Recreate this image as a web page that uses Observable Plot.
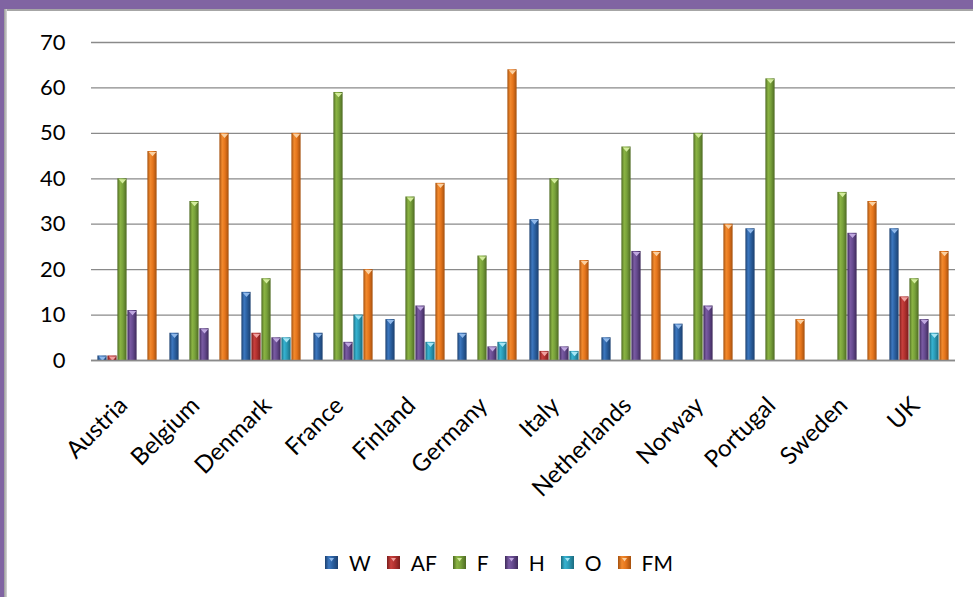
<!DOCTYPE html>
<html>
<head>
<meta charset="utf-8">
<script src="https://cdn.jsdelivr.net/npm/d3@7"></script>
<script src="https://cdn.jsdelivr.net/npm/@observablehq/plot@0.6"></script>
<style>
  html, body { margin: 0; padding: 0; background: #fff; }
  #frame { position: relative; width: 973px; height: 597px; overflow: hidden; background: #fff; font-family: Lato, "Open Sans", sans-serif; }
  #legend { position: absolute; top: 550px; left: 325px; display: flex; align-items: center; font-size: 21px; color: #000; }
  #legend .item { display: flex; align-items: center; margin-right: 16px; }
  #legend .sw { width: 13px; height: 13px; margin-right: 11px; }
</style>
</head>
<body>
<svg width="0" height="0" style="position:absolute">
  <defs id="gradDefs"></defs>
</svg>
<div id="frame">
  <div style="position:absolute;left:0;top:0;width:973px;height:9px;background:#8064a2"></div>
  <div style="position:absolute;left:0;top:0;width:4px;height:597px;background:#8064a2"></div>
  <div style="position:absolute;left:4px;top:9px;width:969px;height:2px;background:#a6a6a6"></div>
  <div style="position:absolute;left:4px;top:9px;width:3px;height:588px;background:linear-gradient(to right,#999,#d8d8d8)"></div>
  <div id="chart" style="position:absolute;left:0;top:0"></div>
  <div id="legend"></div>
</div>
<script>
const countries = ["Austria","Belgium","Denmark","France","Finland","Germany","Italy","Netherlands","Norway","Portugal","Sweden","UK"];
const series = ["W","AF","F","H","O","FM"];
const W  = [1, 6, 15, 6, 9, 6, 31, 5, 8, 29, 0, 29];
const AF = [1, 0, 6, 0, 0, 0, 2, 0, 0, 0, 0, 14];
const F  = [40, 35, 18, 59, 36, 23, 40, 47, 50, 62, 37, 18];
const H  = [11, 7, 5, 4, 12, 3, 3, 24, 12, 0, 28, 9];
const O  = [0, 0, 5, 10, 4, 4, 2, 0, 0, 0, 0, 6];
const FM = [46, 50, 50, 20, 39, 64, 22, 24, 30, 9, 35, 24];
const yTicks = [0, 10, 20, 30, 40, 50, 60, 70];

const values = {W, AF, F, H, O, FM};
// colours: [dark edge, light, mid, marker]
const palette = {
  W:  ["#1c406f", "#3d78c0", "#2a5f9f", "#8fb8ea"],
  AF: ["#7a1d1c", "#c8403d", "#b0302e", "#f0a09e"],
  F:  ["#4e6a23", "#8bb444", "#77a03a", "#d3ec9c"],
  H:  ["#3e2a5a", "#7a5ba3", "#654a8e", "#c0a8e0"],
  O:  ["#1c6b7f", "#36b3d1", "#2a9ab6", "#a6e6f5"],
  FM: ["#a4500e", "#f28a2e", "#e5751c", "#fbd0a0"]
};

const defs = document.getElementById("gradDefs");
const NS = "http://www.w3.org/2000/svg";
for (const s of series) {
  const [dark, light, mid] = palette[s];
  const g = document.createElementNS(NS, "linearGradient");
  g.setAttribute("id", "g-" + s);
  g.setAttribute("x1", "0"); g.setAttribute("x2", "1");
  g.setAttribute("y1", "0"); g.setAttribute("y2", "0");
  [[0, dark], [0.3, light], [0.6, mid], [1, dark]].forEach(([o, c]) => {
    const st = document.createElementNS(NS, "stop");
    st.setAttribute("offset", o); st.setAttribute("stop-color", c);
    g.appendChild(st);
  });
  defs.appendChild(g);
}

const data = [];
countries.forEach((c, i) => {
  for (const s of series) {
    const v = values[s][i];
    if (v > 0) data.push({country: c, series: s, value: v});
  }
});

const triDown = {
  draw(ctx, size) {
    const r = Math.sqrt(size) * 0.7;
    ctx.moveTo(-r, -r * 0.55);
    ctx.lineTo(r, -r * 0.55);
    ctx.lineTo(0, r * 0.6);
    ctx.closePath();
  }
};

const marks = [
  Plot.ruleY(yTicks, {stroke: "#8a8a8a", strokeWidth: 1.3})
];
for (const s of series) {
  const d = data.filter(r => r.series === s);
  marks.push(Plot.barY(d, {fx: "country", x: "series", y: "value", fill: `url(#g-${s})`, insetLeft: 0.4, insetRight: 0.4}));
}
for (const s of series) {
  const d = data.filter(r => r.series === s);
  marks.push(Plot.dot(d, {fx: "country", x: "series", y: "value", symbol: triDown, r: 3, fill: palette[s][3], stroke: "none", dy: 2.5}));
}
marks.push(Plot.ruleY([0], {stroke: "#8a8a8a", strokeWidth: 1.5}));
marks.push(Plot.axisFx({anchor: "bottom", tickRotate: -45, tickSize: 0, tickPadding: 41, fontSize: 24, dx: -4, label: null}));

const chart = Plot.plot({
  width: 973,
  height: 520,
  marginTop: 42,
  marginBottom: 160,
  marginLeft: 88,
  marginRight: 15,
  style: {fontFamily: "Lato, 'Open Sans', sans-serif", fontSize: "22px", color: "#000", background: "transparent", overflow: "visible"},
  fx: {domain: countries, padding: 0, label: null},
  x: {domain: series, axis: null, paddingInner: 0.05, paddingOuter: 0.3},
  y: {domain: [0, 70], ticks: yTicks, label: null, tickSize: 0, tickPadding: 26},
  marks
});
document.getElementById("chart").appendChild(chart);

const legend = document.getElementById("legend");
for (const s of series) {
  const item = document.createElement("div");
  item.className = "item";
  item.innerHTML = `<svg class="sw" viewBox="0 0 13 13"><rect width="13" height="13" fill="url(#g-${s})"/><path d="M4 2 L9 2 L6.5 5.5 Z" fill="${palette[s][3]}"/></svg><span>${s}</span>`;
  legend.appendChild(item);
}
</script>
</body>
</html>
